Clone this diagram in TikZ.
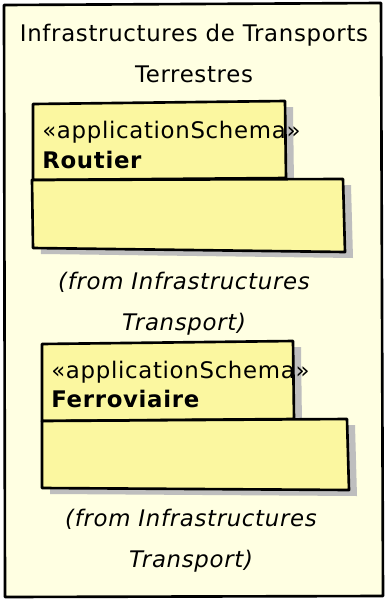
\documentclass[tikz,border=0pt]{standalone}
\usepackage{fontspec}
\setmainfont[LetterSpace=3]{DejaVu Sans}
\newcommand\tailletexte{\fontsize{13}{22.8}\selectfont}
\definecolor{jauneClair}{RGB}{255,255,226}
\definecolor{jaunePaquet}{RGB}{251,247,160}
\definecolor{grisOmbre}{RGB}{190,190,190}
\begin{document}
\begin{tikzpicture}[x=0.02cm, y=-0.02cm, line join=round, line cap=round, font=\tailletexte,
		bord/.style={draw=black, line width=1.5pt},
		paquet/.style={bord, fill=jaunePaquet},
		ombre/.style={fill=grisOmbre, shift={(8,6)}},
		texte/.style={inner sep=0pt, anchor=base west},
		origine/.style={inner sep=0pt, anchor=base, align=center, font={\tailletexte\itshape}}]
		\useasboundingbox (0,0) rectangle (386,599);
		% cadre
		\draw[bord, fill=jauneClair] (4,5) -- (381,3) -- (383,596) -- (5,597) -- cycle;
		\node[inner sep=0pt, anchor=base, align=center] (titre) at (194,82) {Infrastructures de Transports\\Terrestres};
		% paquet Routier
		\fill[ombre] (33,104) -- (285,101) -- (286,178) -- (33,180) -- cycle;
		\fill[ombre] (32,180) -- (343,179) -- (345,252) -- (33,248) -- cycle;
		\draw[paquet] (33,104) -- (285,101) -- (286,178) -- (33,180) -- cycle;
		\draw[paquet] (32,180) -- (343,179) -- (345,252) -- (33,248) -- cycle;
		\node[texte] (stereoRoutier) at (42,138) {«applicationSchema»};
		\node[texte] (nomRoutier) at (42,168) {\textbf{Routier}};
		\node[origine] (origineRoutier) at (184,330) {(from Infrastructures\\Transport)};
		% paquet Ferroviaire
		\fill[ombre] (42,344) -- (293,341) -- (294,419) -- (42,421) -- cycle;
		\fill[ombre] (42,421) -- (347,419) -- (349,490) -- (42,488) -- cycle;
		\draw[paquet] (42,344) -- (293,341) -- (294,419) -- (42,421) -- cycle;
		\draw[paquet] (42,421) -- (347,419) -- (349,490) -- (42,488) -- cycle;
		\node[texte] (stereoFerroviaire) at (51,378) {«applicationSchema»};
		\node[texte] (nomFerroviaire) at (51,407) {\textbf{Ferroviaire}};
		\node[origine] (origineFerroviaire) at (191,567) {(from Infrastructures\\Transport)};
\end{tikzpicture}
\end{document}
